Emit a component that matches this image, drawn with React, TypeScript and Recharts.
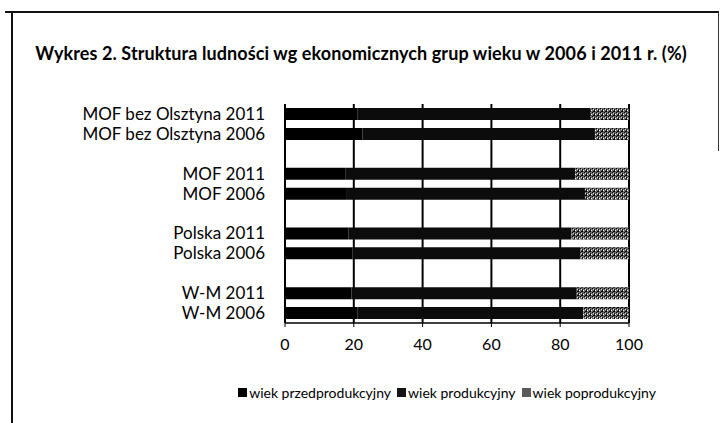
import React from "react";
import { BarChart, Bar, XAxis, YAxis, CartesianGrid } from "recharts";

// top to bottom, empty strings are the spacer rows between groups
const categories = [
  "MOF bez Olsztyna 2011",
  "MOF bez Olsztyna 2006",
  "",
  "MOF 2011",
  "MOF 2006",
  "",
  "Polska 2011",
  "Polska 2006",
  "",
  "W-M 2011",
  "W-M 2006",
];
const przedprodukcyjny = [21.0, 22.5, null, 17.5, 18.0, null, 18.5, 19.6, null, 19.3, 21.0];
const produkcyjny = [67.7, 67.6, null, 66.8, 69.2, null, 64.8, 66.2, null, 65.5, 65.7];
const poprodukcyjny = [11.3, 9.9, null, 15.7, 12.8, null, 16.7, 14.2, null, 15.2, 13.3];
const xTicks = [0, 20, 40, 60, 80, 100];

const SERIES = [
  { key: "przed", name: "wiek przedprodukcyjny", fill: "#000000", icon: "#000000" },
  { key: "prod", name: "wiek produkcyjny", fill: "#0c0c0c", icon: "#141414" },
  { key: "po", name: "wiek poprodukcyjny", fill: "url(#scanHatch)", icon: "#5a5a5a" },
];

const FONT = "Lato, 'Open Sans', sans-serif";

const data = categories.map((c, i) => ({
  idx: i,
  label: c,
  przed: przedprodukcyjny[i],
  prod: produkcyjny[i],
  po: poprodukcyjny[i],
}));

export default function App() {
  return (
    <div
      style={{
        position: "absolute",
        left: 0,
        top: 0,
        width: 722,
        height: 423,
        background: "#fff",
        fontFamily: FONT,
        overflow: "hidden",
      }}
    >
      {/* scanned page frame */}
      <div style={{ position: "absolute", left: 5, top: 11, width: 713, height: 2, background: "#111" }} />
      <div style={{ position: "absolute", left: 11, top: 11, width: 2, height: 412, background: "#111" }} />
      <div style={{ position: "absolute", left: 718, top: 11, width: 1, height: 140, background: "#333" }} />

      <div
        style={{
          position: "absolute",
          left: 0,
          top: 42,
          width: 722,
          textAlign: "center",
          fontWeight: 700,
          fontSize: 18,
          letterSpacing: 0.1,
          color: "#000",
        }}
      >
        Wykres 2. Struktura ludności wg ekonomicznych grup wieku w 2006 i 2011 r. (%)
      </div>

      <div style={{ position: "absolute", left: 0, top: 0 }}>
        <BarChart
          layout="vertical"
          width={722}
          height={423}
          data={data}
          margin={{ top: 104, right: 93, bottom: 70, left: 0 }}
          barSize={12}
        >
          <defs>
            <pattern id="scanHatch" width="4" height="4" patternUnits="userSpaceOnUse">
              <rect width="4" height="4" fill="#6a6a6a" />
              <rect x="0" y="0" width="1" height="1" fill="#000" />
              <rect x="2" y="1" width="1" height="2" fill="#111" />
              <rect x="1" y="3" width="2" height="1" fill="#000" />
              <rect x="3" y="2" width="1" height="1" fill="#fff" />
              <rect x="1" y="1" width="1" height="1" fill="#ddd" />
            </pattern>
          </defs>
          <CartesianGrid horizontal={false} stroke="#000" strokeWidth={2} />
          <XAxis
            type="number"
            domain={[0, 100]}
            ticks={xTicks}
            height={30}
            axisLine={{ stroke: "#000", strokeWidth: 1.5 }}
            tickLine={{ stroke: "#000" }}
            tickSize={4}
            tickMargin={12}
            tick={{ fontSize: 16, fill: "#000", fontFamily: FONT }}
          />
          <YAxis
            type="category"
            dataKey="idx"
            width={285}
            axisLine={false}
            tickLine={false}
            tickSize={0}
            tickMargin={20}
            interval={0}
            tickFormatter={(v) => categories[v]}
            tick={{ fontSize: 17, fill: "#000", fontFamily: FONT }}
          />
          {SERIES.map((s) => (
            <Bar
              key={s.key}
              dataKey={s.key}
              name={s.name}
              stackId="a"
              fill={s.fill}
              isAnimationActive={false}
            />
          ))}
        </BarChart>
      </div>

      <div
        style={{
          position: "absolute",
          left: 236,
          top: 384,
          width: 422,
          display: "flex",
          justifyContent: "center",
          gap: 6,
          fontSize: 14,
          color: "#000",
          whiteSpace: "nowrap",
        }}
      >
        {SERIES.map((s) => (
          <span key={s.key} style={{ display: "flex", alignItems: "center" }}>
            <span
              style={{
                display: "inline-block",
                width: 9,
                height: 9,
                marginRight: 2,
                background: s.icon,
              }}
            />
            {s.name}
          </span>
        ))}
      </div>
    </div>
  );
}
